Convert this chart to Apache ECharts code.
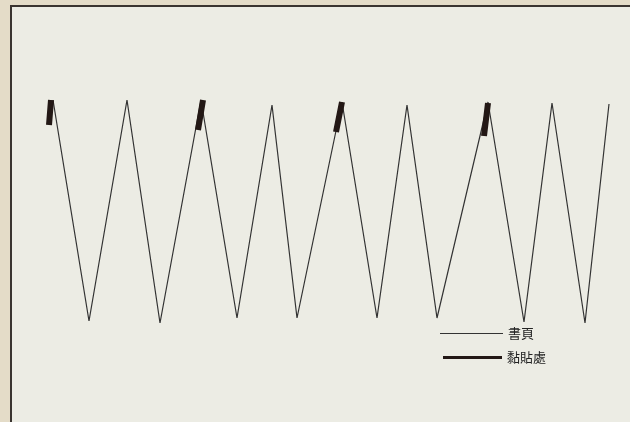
<!DOCTYPE html>
<html>
<head>
<meta charset="utf-8">
<script src="https://cdn.jsdelivr.net/npm/echarts@6/dist/echarts.min.js"></script>
<style>
html,body{margin:0;padding:0;background:#e4dcc8;}
#c{width:630px;height:422px;}
</style>
</head>
<body>
<div id="c"></div>
<script>
// Zigzag of folded book pages: horizontal position and height of each fold
var pageX = [13, 49, 87, 120, 161, 197, 232, 257, 302, 337, 367, 397, 448, 484, 512, 545, 569];
var pageY = [220, -1, 220, -3, 220, 2, 215, 2, 218, 2, 215, 2, 218, -2, 217, -3, 216];
// Glued places: start/end of each thick segment
var glueX1 = [11, 163, 302, 448];
var glueY1 = [220, 220, 218, 217];
var glueX2 = [9, 158, 296, 444];
var glueY2 = [195, 190, 188, 184];
var names = ['書頁', '黏貼處'];

var pageData = pageX.map(function (x, i) { return [x, pageY[i]]; });
var glueData = [];
glueX1.forEach(function (x, i) {
  if (i > 0) glueData.push(null);
  glueData.push([x, glueY1[i]]);
  glueData.push([glueX2[i], glueY2[i]]);
});

var legendText = {fontFamily: 'Noto Sans CJK TC', fontSize: 13, color: '#222'};
var chart = echarts.init(document.getElementById('c'), null, {renderer: 'canvas'});
chart.setOption({
  backgroundColor: '#e4dcc8',
  animation: false,
  graphic: [{
    type: 'rect', z: -1, silent: true,
    shape: {x: 11, y: 6, width: 640, height: 430},
    style: {fill: '#ecece4', stroke: '#3a3430', lineWidth: 2}
  }],
  grid: {left: 40, right: 21, top: 100, height: 230},
  xAxis: {type: 'value', min: 0, max: 569, show: false},
  yAxis: {type: 'value', min: -10, max: 220, show: false},
  legend: [{
    left: 435, top: 322, icon: 'rect',
    itemWidth: 63, itemHeight: 1,
    textStyle: legendText,
    data: [names[0]]
  }, {
    left: 438, top: 346, icon: 'rect',
    itemWidth: 59, itemHeight: 3, itemGap: 2,
    textStyle: legendText,
    data: [names[1]]
  }],
  series: [
    {
      name: names[0], type: 'line', data: pageData, symbol: 'none',
      lineStyle: {color: '#333', width: 1.2},
      itemStyle: {color: '#333'}
    },
    {
      name: names[1], type: 'line', data: glueData, symbol: 'none',
      connectNulls: false,
      lineStyle: {color: '#231815', width: 6, cap: 'butt'},
      itemStyle: {color: '#231815'}
    }
  ]
});
</script>
</body>
</html>
